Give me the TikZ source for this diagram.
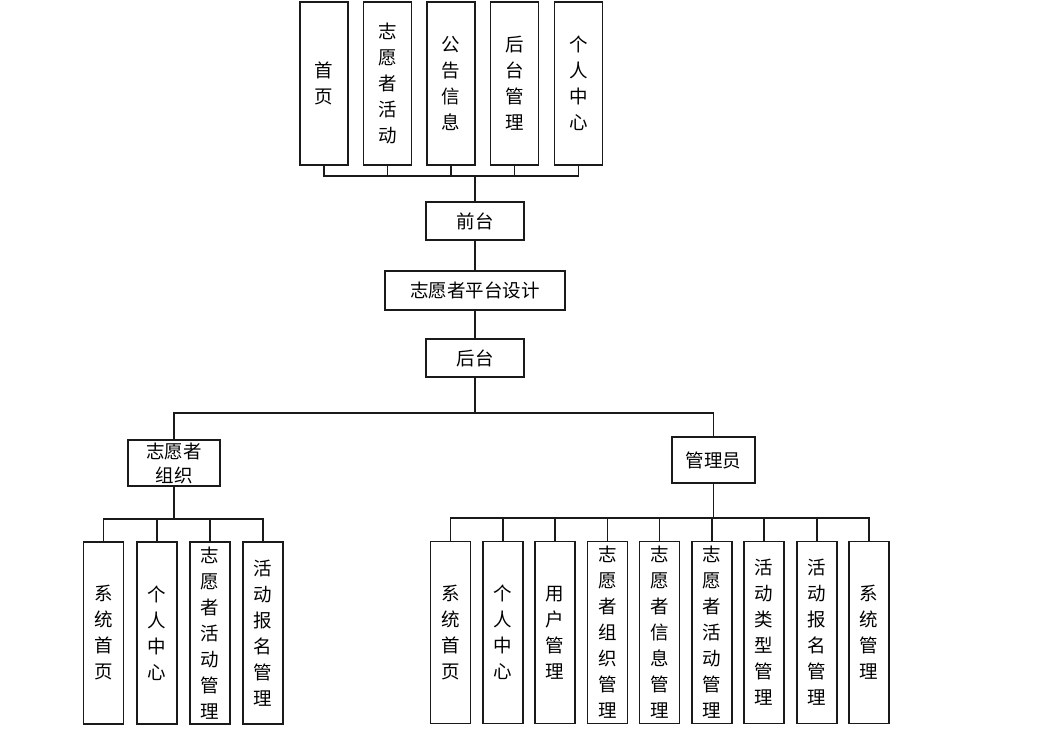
\documentclass[tikz,border=0pt]{standalone}
\usepackage{fontspec}
\setmainfont{Noto Sans CJK SC}
\usetikzlibrary{positioning,calc}
\definecolor{ink}{HTML}{1A1A1A}
\tikzset{
  box/.style={draw=ink, line width=1.6pt, fill=white, align=center, inner sep=0pt, font=\fontsize{18.5}{26}\selectfont},
  tallbox/.style={box, minimum width=48pt, minimum height=163pt, text width=20pt},
  leafbox/.style={box, minimum width=40pt, minimum height=182pt, text width=20pt},
  widebox/.style={box, minimum height=38pt},
  conn/.style={draw=ink, line width=1.5pt}
}
\begin{document}
\begin{tikzpicture}[x=1pt,y=1pt]
\useasboundingbox (0,0) rectangle (1046,-734);
% front end
\foreach \x/\t [count=\i] in {324/{首\\页},387.5/{志\\愿\\者\\活\\动},451/{公\\告\\信\\息},514.5/{后\\台\\管\\理},578.5/{个\\人\\中\\心}}
  \node[tallbox] (top\i) at (\x,-83.5) {\t};
\node[widebox, minimum width=98pt] (qiantai) at (475,-221) {前台};
\node[widebox, minimum width=180pt, minimum height=39pt] (root) at (475,-290.5) {志愿者平台设计};
\node[widebox, minimum width=98pt] (houtai) at (475,-358) {后台};
% back end roles
\node[box, minimum width=92pt, minimum height=46pt, text width=60pt, font=\fontsize{18.5}{24}\selectfont] (zyz) at (174,-463) {志愿者\\组织};
\node[box, minimum width=83pt, minimum height=46pt] (gly) at (713.5,-460) {管理员};
% leaves
\foreach \x/\t [count=\i] in {103.5/{系\\统\\首\\页},157/{个\\人\\中\\心},210/{志\\愿\\者\\活\\动\\管\\理},263/{活\\动\\报\\名\\管\\理}}
  \node[leafbox] (l\i) at (\x,-633) {\t};
\foreach \x/\t [count=\i] in {450.5/{系\\统\\首\\页},503/{个\\人\\中\\心},555/{用\\户\\管\\理},607.5/{志\\愿\\者\\组\\织\\管\\理},659.5/{志\\愿\\者\\信\\息\\管\\理},712/{志\\愿\\者\\活\\动\\管\\理},764/{活\\动\\类\\型\\管\\理},817/{活\\动\\报\\名\\管\\理},869/{系\\统\\管\\理}}
  \node[leafbox] (r\i) at (\x,-632.5) {\t};
% connectors
\coordinate (topbus) at (475,-176);
\coordinate (midbus) at (475,-413);
\coordinate (lbus) at (174,-519);
\coordinate (rbus) at (713.5,-518);
\foreach \i in {1,...,5} \draw[conn] (top\i.south) |- (topbus);
\draw[conn] (topbus) -- (qiantai.north);
\draw[conn] (qiantai.south) -- (root.north);
\draw[conn] (root.south) -- (houtai.north);
\draw[conn] (houtai.south) -- (midbus);
\draw[conn] (zyz.north) |- (midbus);
\draw[conn] (gly.north) |- (midbus);
\draw[conn] (zyz.south) -- (lbus);
\foreach \i in {1,...,4} \draw[conn] (l\i.north) |- (lbus);
\draw[conn] (gly.south) -- (rbus);
\foreach \i in {1,...,9} \draw[conn] (r\i.north) |- (rbus);
\end{tikzpicture}
\end{document}
